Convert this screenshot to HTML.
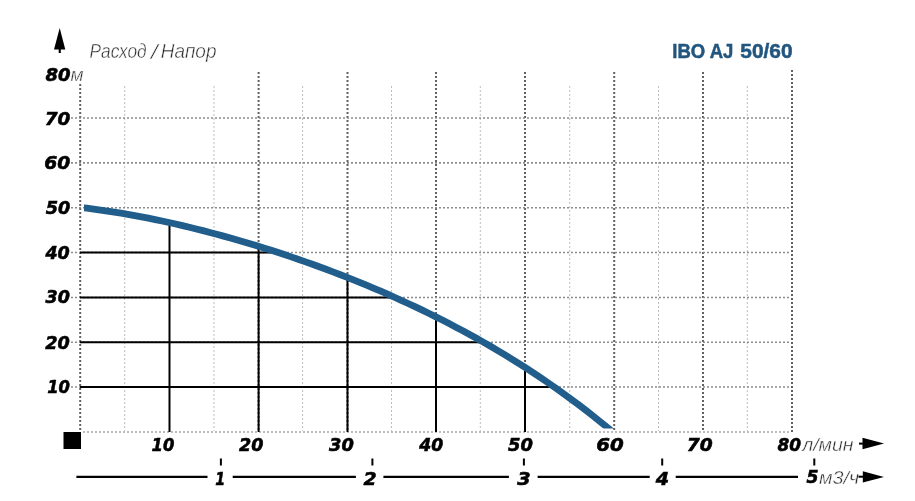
<!DOCTYPE html>
<html><head><meta charset="utf-8">
<style>
html,body{margin:0;padding:0;background:#fff;}
body{width:915px;height:501px;overflow:hidden;position:relative;}
svg{position:absolute;left:0;top:0;}
.mn{stroke:#bdbdbd;stroke-width:1;stroke-dasharray:2 2;}
.mj{stroke:#626262;stroke-width:2;stroke-dasharray:2 2;}
.bd{stroke:#5e5e5e;stroke-width:2;stroke-dasharray:2 2;}
.hz{stroke:#8c8c8c;stroke-width:1.6;stroke-dasharray:2 2;}
.bt{stroke:#a8a8a8;stroke-width:1.4;stroke-dasharray:2 2;}
.sl{stroke:#000;stroke-width:2;}
.cv{stroke:#225e8c;stroke-width:6.8;fill:none;}
.ax{stroke:#000;stroke-width:2.2;}
.tk{stroke:#000;stroke-width:2;}
.bn{font-family:"DejaVu Sans","Liberation Sans",sans-serif;font-weight:bold;font-style:italic;font-size:19px;fill:#000;stroke:#000;stroke-width:0.6px;}
.lt{font-family:"Liberation Sans",sans-serif;font-style:italic;font-size:20px;fill:#2e2e2e;stroke:#fff;stroke-width:0.45px;}
.tt{font-family:"Liberation Sans",sans-serif;font-weight:bold;font-size:20px;fill:#22567f;stroke:#22567f;stroke-width:0.5px;}
</style></head><body>
<svg width="915" height="501" viewBox="0 0 915 501">
<defs><clipPath id="cl"><rect x="84" y="0" width="700" height="428.5"/></clipPath></defs>
<line x1="124.7" y1="86" x2="124.7" y2="431" class="mn"/>
<line x1="214" y1="86" x2="214" y2="431" class="mn"/>
<line x1="302.6" y1="86" x2="302.6" y2="431" class="mn"/>
<line x1="391.5" y1="86" x2="391.5" y2="431" class="mn"/>
<line x1="480.3" y1="86" x2="480.3" y2="431" class="mn"/>
<line x1="569.7" y1="86" x2="569.7" y2="431" class="mn"/>
<line x1="658.5" y1="86" x2="658.5" y2="431" class="mn"/>
<line x1="747.3" y1="86" x2="747.3" y2="431" class="mn"/>
<line x1="258.6" y1="72" x2="258.6" y2="431" class="mj"/>
<line x1="347.5" y1="72" x2="347.5" y2="431" class="mj"/>
<line x1="436" y1="72" x2="436" y2="431" class="mj"/>
<line x1="525" y1="72" x2="525" y2="431" class="mj"/>
<line x1="614.2" y1="72" x2="614.2" y2="431" class="mj"/>
<line x1="703" y1="72" x2="703" y2="431" class="mj"/>
<line x1="80.2" y1="84" x2="80.2" y2="431" class="mj"/>
<line x1="792" y1="70" x2="792" y2="432" class="bd"/>
<line x1="71" y1="118.0" x2="791" y2="118.0" class="hz"/>
<line x1="71" y1="162.9" x2="791" y2="162.9" class="hz"/>
<line x1="71" y1="207.7" x2="791" y2="207.7" class="hz"/>
<line x1="71" y1="252.5" x2="791" y2="252.5" class="hz"/>
<line x1="71" y1="297.5" x2="791" y2="297.5" class="hz"/>
<line x1="71" y1="342.2" x2="791" y2="342.2" class="hz"/>
<line x1="71" y1="387.0" x2="791" y2="387.0" class="hz"/>
<line x1="83" y1="432" x2="791" y2="432" class="bt"/>
<line x1="80" y1="252.5" x2="278.0" y2="252.5" class="sl"/>
<line x1="80" y1="297.5" x2="395.0" y2="297.5" class="sl"/>
<line x1="80" y1="342.2" x2="483.4" y2="342.2" class="sl"/>
<line x1="80" y1="387" x2="554.2" y2="387" class="sl"/>
<line x1="169.5" y1="222.7" x2="169.5" y2="432" class="sl"/>
<line x1="258.6" y1="246.3" x2="258.6" y2="432" class="sl"/>
<line x1="347.5" y1="277.5" x2="347.5" y2="432" class="sl"/>
<line x1="436" y1="316.9" x2="436" y2="432" class="sl"/>
<line x1="525" y1="367.4" x2="525" y2="432" class="sl"/>
<path d="M80.00,207.39 L86.84,208.20 L93.67,209.08 L100.51,210.02 L107.34,211.02 L114.18,212.08 L121.01,213.20 L127.85,214.37 L134.68,215.60 L141.52,216.88 L148.35,218.21 L155.19,219.59 L162.03,221.03 L168.86,222.51 L175.70,224.05 L182.53,225.63 L189.37,227.26 L196.20,228.93 L203.04,230.66 L209.87,232.43 L216.71,234.24 L223.54,236.10 L230.38,238.00 L237.22,239.95 L244.05,241.94 L250.89,243.98 L257.72,246.06 L264.56,248.18 L271.39,250.35 L278.23,252.56 L285.06,254.82 L291.90,257.12 L298.73,259.46 L305.57,261.85 L312.41,264.28 L319.24,266.77 L326.08,269.29 L332.91,271.86 L339.75,274.49 L346.58,277.15 L353.42,279.87 L360.25,282.64 L367.09,285.45 L373.92,288.32 L380.76,291.24 L387.59,294.22 L394.43,297.24 L401.27,300.33 L408.10,303.47 L414.94,306.66 L421.77,309.92 L428.61,313.24 L435.44,316.62 L442.28,320.06 L449.11,323.57 L455.95,327.14 L462.78,330.78 L469.62,334.49 L476.46,338.28 L483.29,342.14 L490.13,346.07 L496.96,350.08 L503.80,354.17 L510.63,358.34 L517.47,362.60 L524.30,366.94 L531.14,371.37 L537.97,375.89 L544.81,380.50 L551.65,385.21 L558.48,390.02 L565.32,394.92 L572.15,399.93 L578.99,405.04 L585.82,410.27 L592.66,415.60 L599.49,421.05 L606.33,426.61 L613.16,432.30 L620.00,438.11" class="cv" clip-path="url(#cl)"/>
<rect x="63.5" y="432" width="17.5" height="17" fill="#000"/>
<polygon points="59.7,28 54,49.5 65.3,49.5" fill="#000"/>
<rect x="58.7" y="49" width="2.1" height="4" fill="#000"/>
<text class="bn" transform="matrix(0.9500 0 0 0.9571 45.40 80.70)">80</text>
<text class="bn" transform="matrix(0.9720 0 0 0.9571 44.63 124.70)">70</text>
<text class="bn" transform="matrix(0.9880 0 0 0.9571 44.21 168.90)">60</text>
<text class="bn" transform="matrix(0.9308 0 0 0.9571 45.70 213.90)">50</text>
<text class="bn" transform="matrix(0.9231 0 0 0.9571 45.40 259.00)">40</text>
<text class="bn" transform="matrix(0.9231 0 0 0.9571 45.60 303.40)">30</text>
<text class="bn" transform="matrix(0.9308 0 0 0.9571 45.20 348.80)">20</text>
<text class="bn" transform="matrix(0.8615 0 0 0.9571 47.20 393.10)">10</text>
<text class="bn" transform="matrix(0.8654 0 0 0.9571 151.50 450.70)">10</text>
<text class="bn" transform="matrix(0.9231 0 0 0.9571 239.00 450.70)">20</text>
<text class="bn" transform="matrix(0.9385 0 0 0.9571 329.00 450.70)">30</text>
<text class="bn" transform="matrix(0.9077 0 0 0.9571 419.20 450.70)">40</text>
<text class="bn" transform="matrix(0.9423 0 0 0.9571 508.00 450.70)">50</text>
<text class="bn" transform="matrix(1.0400 0 0 0.9571 596.26 450.70)">60</text>
<text class="bn" transform="matrix(0.9800 0 0 0.9571 686.72 450.70)">70</text>
<text class="bn" transform="matrix(0.8923 0 0 0.9571 777.40 450.70)">80</text>
<text class="bn" transform="matrix(0.7545 0 0 0.9571 215.20 484.60)">1</text>
<text class="bn" transform="matrix(0.9923 0 0 0.9571 363.50 484.80)">2</text>
<text class="bn" transform="matrix(1.0167 0 0 0.9571 517.20 484.80)">3</text>
<text class="bn" transform="matrix(1.0083 0 0 0.9571 655.70 484.70)">4</text>
<text class="bn" transform="matrix(0.9077 0 0 0.9571 806.60 483.10)">5</text>
<text class="lt" transform="matrix(0.8662 0 0 0.9867 89.53 57.70)">Расход</text>
<text class="lt" transform="matrix(1.1750 0 0 1.0133 151.08 58.50)">/</text>
<text class="lt" transform="matrix(0.9491 0 0 1.0111 160.85 57.86)">Напор</text>
<text class="lt" transform="matrix(0.9538 0 0 0.9182 70.50 80.70)">м</text>
<text class="lt" transform="matrix(0.9755 0 0 0.8933 802.18 450.60)">л/мин</text>
<text class="lt" transform="matrix(0.9850 0 0 0.9467 819.00 483.50)">м3/ч</text>
<text class="tt" transform="matrix(0.9266 0 0 1.0143 672.27 58.40)">IBO AJ</text>
<text class="tt" transform="matrix(1.0440 0 0 1.0143 740.30 58.40)">50/60</text>
<line x1="859" y1="443.6" x2="864" y2="443.6" stroke="#000" stroke-width="2"/>
<polygon points="862.5,437.8 884.1,443.5 862.5,449.2" fill="#000"/>
<line x1="76.4" y1="476.9" x2="207.5" y2="476.9" class="ax"/>
<line x1="232.7" y1="476.9" x2="355.9" y2="476.9" class="ax"/>
<line x1="383.4" y1="476.9" x2="508.9" y2="476.9" class="ax"/>
<line x1="537.6" y1="476.9" x2="649.7" y2="476.9" class="ax"/>
<line x1="675.7" y1="476.9" x2="798" y2="476.9" class="ax"/>
<line x1="220.9" y1="458.5" x2="220.9" y2="465.5" class="tk"/>
<line x1="372.4" y1="458.5" x2="372.4" y2="465.5" class="tk"/>
<line x1="523.9" y1="458.5" x2="523.9" y2="465.5" class="tk"/>
<line x1="662.2" y1="458.5" x2="662.2" y2="465.5" class="tk"/>
<line x1="814.3" y1="458.5" x2="814.3" y2="465.5" class="tk"/>
<line x1="858.5" y1="476.7" x2="864" y2="476.7" stroke="#000" stroke-width="2"/>
<polygon points="862.8,471.3 884,476.9 862.8,482.5" fill="#000"/>
</svg>
</body></html>
